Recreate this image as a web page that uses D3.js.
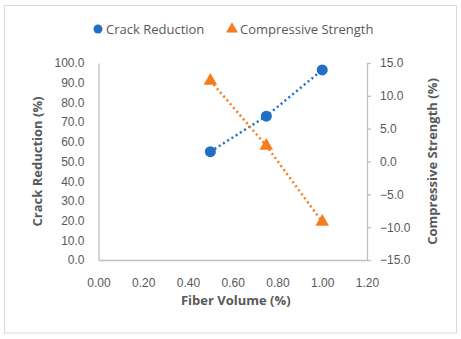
<!DOCTYPE html>
<html>
<head>
<meta charset="utf-8">
<script src="https://cdn.jsdelivr.net/npm/d3@7"></script>
<style>
  body { margin: 0; background: #fff; }
  text { font-family: "Open Sans", "Liberation Sans", sans-serif; fill: #595959; }
</style>
</head>
<body>
<div id="chart"></div>
<script>
// data
const fiberVolume = [0.5, 0.75, 1.0];
const crackReduction = [55.0, 73.0, 96.5];
const compressiveStrength = [12.3, 2.4, -9.2];
const xTicks = [0, 0.2, 0.4, 0.6, 0.8, 1.0, 1.2];
const yLeftTicks = [0, 10, 20, 30, 40, 50, 60, 70, 80, 90, 100];
const yRightTicks = [-15, -10, -5, 0, 5, 10, 15];

const W = 461, H = 339;
const m = { left: 98.5, right: 367, top: 63, bottom: 260 };

const svg = d3.select("#chart").append("svg")
  .attr("width", W).attr("height", H);

svg.append("rect")
  .attr("x", 4.5).attr("y", 5.5).attr("width", 452).attr("height", 327.5)
  .attr("fill", "#fff").attr("stroke", "#d9d9d9");

const x = d3.scaleLinear().domain([0, 1.2]).range([m.left, m.right]);
const yL = d3.scaleLinear().domain([0, 100]).range([m.bottom, m.top]);
const yR = d3.scaleLinear().domain([-15, 15]).range([m.bottom, m.top]);

const blue = "#1f6fc5", orange = "#f57d20", axisCol = "#bfbfbf";

// x axis
const gx = svg.append("g").attr("transform", `translate(0,${m.bottom})`)
  .call(d3.axisBottom(x).tickValues(xTicks).tickFormat(d3.format(".2f")).tickSize(0).tickPadding(18));
gx.select(".domain").attr("stroke", axisCol).attr("stroke-width", 1.3);
gx.selectAll("text").attr("font-size", 12).style("font-family", "inherit").attr("fill", "#595959");

// left axis
const gl = svg.append("g").attr("transform", `translate(${m.left},0)`)
  .call(d3.axisLeft(yL).tickValues(yLeftTicks).tickFormat(d3.format(".1f")).tickSize(0).tickPadding(14));
gl.select(".domain").attr("stroke", axisCol).attr("stroke-width", 1.3);
gl.selectAll("text").attr("font-size", 12).style("font-family", "inherit").attr("fill", "#595959");

// right axis
const gr = svg.append("g").attr("transform", `translate(${m.right},0)`)
  .call(d3.axisRight(yR).tickValues(yRightTicks).tickFormat(d3.format(".1f")).tickSizeInner(4).tickSizeOuter(0).tickPadding(9));
gr.select(".domain").attr("stroke", axisCol).attr("stroke-width", 1.3);
gr.selectAll("line").attr("stroke", axisCol).attr("stroke-width", 1.3);
gr.selectAll("text").attr("font-size", 12).style("font-family", "inherit").attr("fill", "#595959");

// axis titles
svg.append("text").attr("x", (m.left + m.right) / 2 + 3).attr("y", 305)
  .attr("text-anchor", "middle").attr("font-size", 13).attr("font-weight", "bold")
  .text("Fiber Volume (%)");
svg.append("text").attr("transform", `translate(42,${(m.top + m.bottom) / 2}) rotate(-90)`)
  .attr("text-anchor", "middle").attr("font-size", 13).attr("font-weight", "bold")
  .text("Crack Reduction (%)");
svg.append("text").attr("transform", `translate(437,${(m.top + m.bottom) / 2}) rotate(-90)`)
  .attr("text-anchor", "middle").attr("font-size", 13).attr("font-weight", "bold")
  .text("Compressive Strength (%)");

// series
const crackData = fiberVolume.map((v, i) => [v, crackReduction[i]]);
const compData = fiberVolume.map((v, i) => [v, compressiveStrength[i]]);

svg.append("path").datum(crackData)
  .attr("fill", "none").attr("stroke", blue).attr("stroke-width", 2.5)
  .attr("stroke-dasharray", "2,3")
  .attr("d", d3.line().x(d => x(d[0])).y(d => yL(d[1])));
svg.append("path").datum(compData)
  .attr("fill", "none").attr("stroke", orange).attr("stroke-width", 2.5)
  .attr("stroke-dasharray", "2,3")
  .attr("d", d3.line().x(d => x(d[0])).y(d => yR(d[1])));

svg.selectAll(".cr").data(crackData).join("circle")
  .attr("cx", d => x(d[0])).attr("cy", d => yL(d[1])).attr("r", 5.5)
  .attr("fill", blue);

const tri = d3.symbol().type(d3.symbolTriangle).size(80);
svg.selectAll(".cs").data(compData).join("path")
  .attr("transform", d => `translate(${x(d[0])},${yR(d[1])})`)
  .attr("d", tri).attr("fill", orange);

// legend
svg.append("circle").attr("cx", 98).attr("cy", 29).attr("r", 4.5).attr("fill", blue);
svg.append("text").attr("x", 106).attr("y", 34).attr("font-size", 13).text("Crack Reduction");
svg.append("path").attr("transform", "translate(232,29)")
  .attr("d", d3.symbol().type(d3.symbolTriangle).size(60)).attr("fill", orange);
svg.append("text").attr("x", 240).attr("y", 34).attr("font-size", 13).text("Compressive Strength");
</script>
</body>
</html>
